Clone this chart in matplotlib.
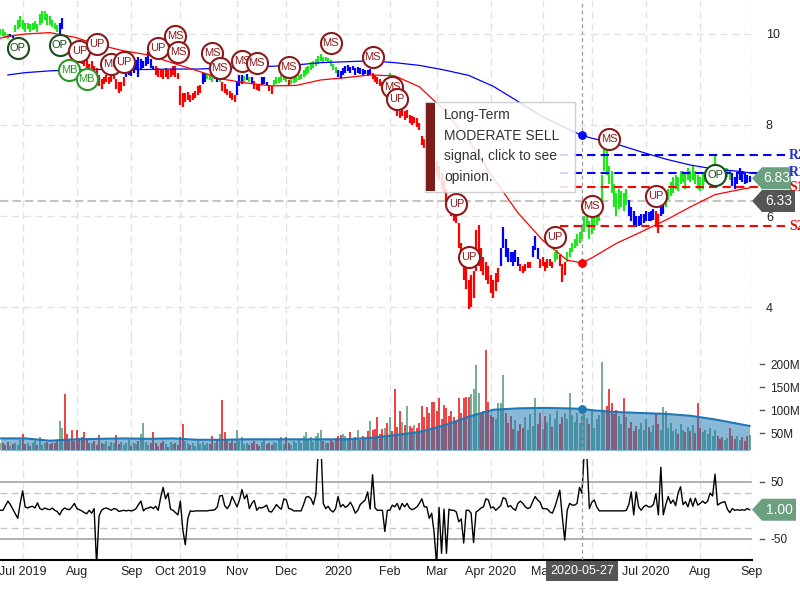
import numpy as np
import matplotlib
matplotlib.use('Agg')
import matplotlib.pyplot as plt
from matplotlib.patches import Polygon, Rectangle

plt.rcParams['font.family'] = ['Liberation Sans', 'DejaVu Sans']
plt.rcParams['axes.unicode_minus'] = False

# one bar per trading day, 2019-06-18 .. 2020-08-31 (x = trading-day index)
lows = [
    9.98, 9.95, 9.92, 9.90, 9.93, 9.92, 10.05, 10.10, 10.15, 10.10,
    10.05, 10.10, 10.05, 10.08, 10.10, 10.05, 10.20, 10.25, 10.30, 10.20,
    10.20, 10.15, 10.10, 10.05, 10.00, 10.10, 9.75, 9.65, 9.60, 9.55,
    9.50, 9.45, 9.40, 9.35, 9.30, 9.20, 9.10, 9.10, 9.05, 9.00,
    8.85, 8.80, 8.90, 8.95, 8.90, 8.95, 9.00, 8.80, 8.70, 8.75,
    8.85, 9.05, 9.10, 9.08, 9.15, 9.20, 9.05, 9.20, 9.25, 9.30,
    9.35, 9.25, 9.20, 9.10, 9.05, 9.05, 9.00, 9.05, 9.00, 9.05,
    9.10, 9.05, 9.00, 8.45, 8.40, 8.50, 8.55, 8.50, 8.55, 8.60,
    8.65, 8.70, 8.90, 8.95, 9.00, 8.98, 8.95, 9.00, 8.95, 8.95,
    8.75, 8.70, 8.65, 8.60, 8.55, 8.50, 8.65, 8.85, 8.90, 8.95,
    8.98, 8.95, 8.90, 8.80, 8.78, 8.75, 8.88, 8.90, 8.85, 8.75,
    8.68, 8.85, 8.90, 8.92, 8.95, 8.98, 8.95, 8.85, 8.90, 8.92,
    8.95, 8.98, 9.00, 9.05, 9.10, 9.15, 9.20, 9.25, 9.30, 9.35,
    9.40, 9.38, 9.40, 9.38, 9.30, 9.20, 9.15, 9.05, 9.02, 9.10,
    9.15, 9.18, 9.15, 9.20, 9.10, 9.15, 9.12, 9.10, 9.12, 9.08,
    9.10, 9.00, 8.95, 8.90, 8.85, 8.80, 8.85, 8.75, 8.95, 8.55,
    8.30, 8.20, 8.15, 8.20, 8.10, 8.15, 8.05, 8.00, 8.05, 7.95,
    7.90, 7.55, 7.50, 7.45, 7.30, 7.10, 7.00, 6.90, 6.80, 6.60,
    6.50, 6.30, 6.15, 6.00, 5.90, 5.85, 5.30, 5.00, 4.60, 4.40,
    3.95, 4.00, 4.20, 4.80, 4.90, 4.80, 4.70, 4.60, 4.50, 4.30,
    4.20, 4.35, 4.55, 4.90, 5.30, 5.10, 5.00, 5.00, 4.90, 5.00,
    4.90, 4.80, 4.75, 4.80, 4.85, 4.85, 5.10, 5.25, 5.05, 4.85,
    4.90, 4.80, 4.85, 4.90, 4.85, 5.00, 5.05, 4.90, 4.55, 4.70,
    5.00, 5.10, 5.20, 5.30, 5.35, 5.40, 5.50, 5.65, 5.75, 5.50,
    5.60, 5.70, 5.80, 5.90, 6.30, 7.00, 6.90, 6.70, 6.50, 6.20,
    6.00, 6.15, 6.20, 6.10, 6.25, 6.00, 5.90, 5.80, 5.75, 5.78,
    5.80, 5.85, 5.90, 5.88, 5.90, 5.92, 5.80, 5.62, 6.00, 6.05,
    6.20, 6.35, 6.45, 6.50, 6.60, 6.55, 6.70, 6.75, 6.60, 6.80,
    6.75, 6.80, 6.70, 6.60, 6.55, 6.60, 6.75, 6.80, 6.85, 6.90,
    6.95, 6.85, 6.80, 6.75, 6.80, 6.85, 6.80, 6.65, 6.60, 6.70,
    6.80, 6.75, 6.70, 6.72, 6.75,
]
highs = [
    10.12, 10.10, 10.05, 10.00, 10.00, 9.98, 10.20, 10.30, 10.40, 10.30,
    10.25, 10.25, 10.22, 10.25, 10.28, 10.22, 10.45, 10.50, 10.50, 10.45,
    10.40, 10.30, 10.25, 10.20, 10.25, 10.35, 9.95, 9.85, 9.80, 9.75,
    9.70, 9.65, 9.60, 9.55, 9.50, 9.45, 9.35, 9.40, 9.30, 9.25,
    9.10, 9.00, 9.05, 9.10, 9.05, 9.10, 9.15, 9.00, 8.95, 8.95,
    9.05, 9.25, 9.30, 9.25, 9.40, 9.42, 9.50, 9.45, 9.40, 9.50,
    9.60, 9.45, 9.30, 9.30, 9.25, 9.20, 9.20, 9.25, 9.20, 9.22,
    9.30, 9.30, 9.15, 8.85, 8.70, 8.70, 8.72, 8.65, 8.70, 8.75,
    8.85, 8.87, 9.15, 9.15, 9.12, 9.10, 9.08, 9.12, 9.08, 9.10,
    8.95, 8.90, 8.80, 8.75, 8.70, 8.65, 8.95, 9.10, 9.10, 9.08,
    9.12, 9.05, 9.05, 8.97, 8.90, 8.90, 9.05, 9.05, 8.95, 8.88,
    8.85, 8.98, 9.05, 9.05, 9.10, 9.12, 9.08, 8.98, 9.02, 9.05,
    9.08, 9.10, 9.12, 9.20, 9.28, 9.30, 9.38, 9.40, 9.45, 9.52,
    9.56, 9.50, 9.50, 9.48, 9.42, 9.35, 9.28, 9.20, 9.18, 9.25,
    9.30, 9.32, 9.28, 9.30, 9.25, 9.28, 9.25, 9.22, 9.20, 9.20,
    9.22, 9.15, 9.10, 9.05, 9.00, 8.95, 9.00, 8.90, 9.15, 8.80,
    8.55, 8.40, 8.30, 8.35, 8.30, 8.32, 8.22, 8.20, 8.18, 8.15,
    8.05, 7.75, 7.70, 7.65, 7.60, 7.50, 7.30, 7.20, 7.10, 6.95,
    6.80, 6.60, 6.45, 6.30, 6.30, 6.10, 5.85, 5.40, 5.20, 5.00,
    4.60, 4.70, 4.80, 5.70, 5.80, 5.30, 5.10, 5.00, 4.90, 4.70,
    4.60, 4.75, 4.85, 5.30, 5.75, 5.50, 5.30, 5.20, 5.20, 5.25,
    5.10, 4.95, 4.90, 4.95, 4.98, 5.00, 5.35, 5.55, 5.30, 5.05,
    5.10, 5.00, 5.05, 5.05, 5.00, 5.20, 5.25, 5.15, 4.95, 5.00,
    5.20, 5.30, 5.40, 5.50, 5.60, 5.65, 5.80, 6.00, 6.10, 5.90,
    5.95, 6.00, 6.10, 6.20, 6.90, 7.50, 7.45, 7.10, 7.00, 6.70,
    6.50, 6.60, 6.55, 6.50, 6.60, 6.35, 6.20, 6.10, 6.00, 6.00,
    6.05, 6.05, 6.10, 6.08, 6.12, 6.15, 6.10, 6.05, 6.30, 6.35,
    6.50, 6.60, 6.75, 6.85, 6.90, 6.85, 7.00, 7.00, 6.95, 7.05,
    7.00, 7.10, 7.00, 6.90, 6.85, 6.95, 7.00, 7.05, 7.10, 7.15,
    7.35, 7.10, 7.05, 7.00, 7.05, 7.05, 7.00, 6.95, 6.85, 6.95,
    7.05, 7.00, 6.95, 6.90, 6.88,
]
# trend colouring of the bars: first index of each run and its colour
trend_start = [0, 4, 6, 24, 26, 51, 63, 82, 84, 87, 89, 90, 96, 99, 100, 101, 102,
               103, 106, 109, 111, 117, 118, 137, 151, 158, 159, 203, 211, 216,
               219, 225, 227, 230, 255, 266, 268, 270, 297]
trend_color = ['g', 'b', 'g', 'b', 'r', 'b', 'r', 'b', 'g', 'b', 'g', 'r', 'b', 'g',
               'b', 'g', 'b', 'r', 'b', 'r', 'g', 'r', 'g', 'b', 'r', 'g', 'r', 'b',
               'r', 'b', 'r', 'g', 'r', 'g', 'b', 'r', 'b', 'g', 'b']

# volume in millions
volume = [
    30, 28, 25, 32, 22, 27, 30, 24, 35, 48, 26, 30, 22, 28, 33, 25, 42, 24, 29, 31,
    26, 30, 28, 35, 76, 61, 135, 48, 38, 57, 33, 58, 40, 42, 53, 37, 30, 28, 34, 25,
    46, 30, 27, 33, 22, 31, 29, 46, 26, 32, 24, 28, 35, 22, 30, 27, 33, 48, 72, 31,
    25, 29, 53, 30, 22, 28, 34, 26, 20, 31, 27, 30, 24, 42, 70, 33, 28, 25, 30, 22,
    35, 27, 31, 24, 29, 26, 45, 30, 36, 48, 122, 53, 38, 30, 35, 28, 57, 33, 42, 26,
    30, 24, 28, 33, 27, 22, 31, 40, 26, 29, 25, 32, 28, 35, 41, 27, 43, 30, 24, 33,
    28, 36, 30, 44, 52, 38, 43, 32, 45, 51, 57, 34, 30, 28, 36, 31, 40, 45, 46, 48,
    44, 36, 52, 38, 42, 57, 35, 45, 40, 55, 76, 57, 60, 85, 48, 60, 61, 72, 86, 55,
    145, 64, 98, 75, 68, 110, 65, 61, 68, 62, 72, 110, 85, 108, 93, 118, 117, 98, 126, 80,
    111, 104, 88, 99, 85, 75, 126, 93, 126, 128, 128, 136, 145, 198, 138, 95, 98, 230, 118, 90,
    86, 80, 116, 116, 176, 95, 72, 88, 60, 78, 55, 70, 62, 85, 58, 92, 66, 126, 70, 95,
    60, 88, 75, 92, 64, 80, 98, 70, 85, 95, 80, 138, 90, 75, 95, 72, 88, 92, 84, 70,
    98, 62, 80, 90, 205, 98, 110, 145, 116, 92, 100, 88, 70, 126, 85, 62, 75, 55, 66, 60,
    72, 58, 80, 64, 52, 68, 92, 70, 58, 106, 98, 62, 72, 55, 60, 48, 70, 58, 52, 64,
    56, 68, 50, 116, 62, 52, 58, 48, 62, 45, 58, 44, 38, 42, 36, 40, 62, 44, 38, 45,
    36, 42, 34, 44, 46,
]
# oscillator in the lower panel
osc = [
    0, 0, 8, 16, 10, 2, -6, -14, 12, 34, 6, 4, 6, 7, 4, 13, 3, 1, 4, 2,
    1, 4, 0, -2, -8, 0, 4, 2, 1, 6, 12, 3, 1, -1, -4, -6, 0, -5, 3, -95,
    -10, 0, 3, 4, 2, 0, 3, 2, -2, -1, 0, -1, 0, -1, 0, 3, 10, 16, -1, 3,
    4, 6, 3, 7, 0, 22, 40, 20, 30, 2, 0, -4, -8, 16, -34, -60, -15, -1, -2, -1,
    -1, -1, -1, -1, -1, 0, 0, 1, 6, 25, 26, 8, 3, 9, 24, 15, 6, 18, 36, 20,
    27, 3, 12, 17, 0, 5, 4, 6, 9, -2, -3, 3, 10, 5, 2, 20, 18, 3, 2, -1,
    -1, -1, -1, 10, 23, 24, 20, 10, 28, 110, 120, 12, 3, 7, 0, -3, 3, 24, 6, 10,
    5, 8, 14, 6, -5, 0, 10, 14, 18, 32, 2, 62, 4, 0, 0, 0, -37, 0, 0, 9,
    6, 12, 1, 12, 6, 12, 4, 1, 3, 6, 12, 20, 6, 6, -14, -5, -40, -95, 5, -75,
    2, -75, 2, 0, 0, -3, -20, -15, -57, 0, 0, -5, -56, -3, 0, 4, 6, 20, 18, 4,
    6, 0, 4, 8, 22, 20, 6, 8, 3, 0, 12, 16, 12, 6, 3, 5, 15, 24, 18, 14,
    3, 3, 2, -3, -5, 6, 20, 35, -11, -52, 0, 12, 9, 9, 12, 40, 30, 110, 95, 3,
    14, 18, 6, -1, -1, -1, -1, -1, -1, -1, -1, -1, -1, -1, 0, 10, 32, -8, 32, 6,
    0, 6, 9, 6, 6, 10, 29, -8, 75, -8, 10, 24, 12, 18, 8, 30, 41, 10, 15, 6,
    21, 7, 21, 9, 12, 16, 12, 16, 30, 25, 63, 9, 12, 14, 15, 2, -4, 3, 0, 1,
    0, 1, 0, 3, 1,
]

# moving averages, read at these trading-day indices
ma_idx = [0, 3, 10, 20, 30, 40, 50, 60, 70, 80, 90, 100, 110, 120, 130, 140, 150,
          160, 170, 180, 190, 200, 210, 220, 230, 236, 240, 250, 260, 270, 280,
          290, 300, 304]
ma_fast = [9.91, 9.95, 10.0, 10.03, 9.93, 9.76, 9.63, 9.54, 9.36, 9.19, 9.01, 8.92,
           8.86, 8.87, 8.99, 9.04, 9.10, 9.08, 8.84, 8.33, 7.67, 6.84, 6.07, 5.47,
           5.03, 4.97, 5.08, 5.40, 5.65, 5.91, 6.20, 6.47, 6.58, 6.62]
ma_slow = [np.nan, 9.10, 9.15, 9.19, 9.21, 9.22, 9.22, 9.22, 9.23, 9.23, 9.25, 9.27,
           9.29, 9.32, 9.37, 9.39, 9.41, 9.37, 9.31, 9.21, 9.09, 8.85, 8.52, 8.18,
           7.92, 7.77, 7.71, 7.58, 7.41, 7.25, 7.12, 7.03, 6.98, 6.95]
vol_ma = [39, 39, 39, 34, 37, 38, 39, 38, 39, 36, 36, 37, 37, 37, 37, 37, 40, 46,
          53, 67, 86, 101, 104, 105, 104, 103, 100, 96, 94, 92, 88, 80, 70, 66]

month_idx = [9, 31, 53, 73, 96, 116, 137, 158, 177, 199, 220, 240, 262, 284, 305]
month_labels = ['Jul 2019', 'Aug', 'Sep', 'Oct 2019', 'Nov', 'Dec', '2020', 'Feb',
                'Mar', 'Apr 2020', 'May', 'Jun', 'Jul 2020', 'Aug', 'Sep']

signal_idx = [7, 24, 32, 39, 28, 35, 45, 50, 64, 71, 72, 86, 89, 98, 104, 117, 134,
              151, 159, 161, 185, 190, 225, 240, 247, 266, 290]
signal_price = [9.69, 9.76, 9.63, 9.78, 9.21, 9.01, 9.34, 9.38, 9.69, 9.96, 9.60,
                9.58, 9.25, 9.41, 9.36, 9.27, 9.80, 9.49, 8.84, 8.57, 6.26, 5.10,
                5.54, 6.22, 7.69, 6.44, 6.90]
signal_text = ['OP', 'OP', 'UP', 'UP', 'MB', 'MB', 'MS', 'UP', 'UP', 'MS', 'MS', 'MS',
               'MS', 'MS', 'MS', 'MS', 'MS', 'MS', 'MS', 'UP', 'UP', 'UP', 'UP', 'MS',
               'MS', 'UP', 'OP']

level_names = ['R2', 'R1', 'S1', 'S2']
level_values = [7.34, 6.95, 6.63, 5.77]
level_from = 227

last_price = 6.83
cross_price = 6.33
cross_idx = 236
cross_date = '2020-05-27'
tooltip = 'Long-Term\nMODERATE SELL\nsignal, click to see\nopinion.'

# ---------------------------------------------------------------------------
n = len(lows)
x = np.arange(n)
W, H = 800, 600

pal = {'g': '#1fe61f', 'b': '#0000ff', 'r': '#ff0000'}
bar_col = []
run = 0
for i in range(n):
    while run + 1 < len(trend_start) and i >= trend_start[run + 1]:
        run += 1
    bar_col.append(pal[trend_color[run]])

mid = (np.array(lows) + np.array(highs)) / 2
vol_col = ['#ee2020' if i > 0 and mid[i] < mid[i - 1] else '#5c9e80' for i in range(n)]

fig = plt.figure(figsize=(8, 6), dpi=100)


def box(x0, y0, x1, y1):
    return [x0 / W, 1 - y1 / H, (x1 - x0) / W, (y1 - y0) / H]


ax = fig.add_axes(box(0, 0, 752, 337))
axv = fig.add_axes(box(0, 337, 752, 450))
axo = fig.add_axes(box(0, 459, 752, 560))

grid_kw = dict(color='#e2e2e2', lw=1, ls=(0, (5, 3.5)), zorder=0)
for a in (ax, axv, axo):
    a.set_xlim(-0.2, 305.0)
    for s in a.spines.values():
        s.set_visible(False)
    for m in month_idx:
        a.axvline(m, **grid_kw)
    a.axvline(cross_idx, color='#9a9a9a', lw=0.9, ls=(0, (3, 2.5)), zorder=6)
    a.yaxis.tick_right()
    a.tick_params(axis='x', bottom=False, labelbottom=False)

# price panel
ax.set_ylim(3.341, 10.747)
for v in (4, 6, 8, 10):
    ax.axhline(v, **grid_kw)
ax.axhline(cross_price, color='#c4c4c4', lw=1.5, ls=(0, (4, 2)), zorder=1)
ax.vlines(x, lows, highs, colors=bar_col, lw=1.6, zorder=3)
ax.plot(ma_idx, ma_slow, color='#0000ff', lw=0.9, zorder=4)
ax.plot(ma_idx, ma_fast, color='#ff0000', lw=0.9, zorder=4)
k = ma_idx.index(cross_idx)
ax.scatter([cross_idx], [ma_slow[k]], s=28, color='#0000ff', zorder=7)
ax.scatter([cross_idx], [ma_fast[k]], s=28, color='#ff0000', zorder=7)
for name, val in zip(level_names, level_values):
    col = '#0000ee' if name.startswith('R') else '#ff0000'
    ax.plot([level_from, 318.4], [val, val], color=col, lw=1.5, ls=(0, (4, 2.5)),
            clip_on=False, zorder=5)
ax.set_yticks([4, 6, 8, 10])
ax.tick_params(axis='y', length=0, pad=10, labelsize=9, labelcolor='#222222')

for i, (si, sp, st) in enumerate(zip(signal_idx, signal_price, signal_text)):
    if st == 'OP':
        c = '#1b4d1b'
    elif st == 'MB':
        c = '#2a962a'
    else:
        c = '#8b1a1a'
    ax.scatter([si], [sp], s=230, facecolor='white', edgecolor=c, linewidth=1.5,
               zorder=10 + 2 * i)
    ax.text(si, sp, st, color=c, fontsize=8, ha='center', va='center',
            zorder=11 + 2 * i)

# volume panel
axv.set_ylim(13.9, 258.5)
axv.vlines(x, 0, volume, colors=vol_col, lw=1.2, zorder=2)
axv.fill_between(ma_idx, 0, vol_ma, color='#1f77b4', alpha=0.52, lw=0, zorder=3)
axv.plot(ma_idx, vol_ma, color='#1f77b4', lw=1.5, zorder=4)
axv.scatter([cross_idx], [vol_ma[k]], s=28, color='#1f77b4', zorder=7)
vt = [50, 100, 150, 200]
axv.set_yticks(vt)
axv.set_yticklabels([f'{t}M' for t in vt])

# oscillator panel
axo.set_ylim(-86.6, 89.4)
for v in (50, -50):
    axo.axhline(v, color='#aaaaaa', lw=1.3, zorder=1)
for v in (30, -30):
    axo.axhline(v, color='#c6c6c6', lw=1, ls=(0, (5, 3)), zorder=1)
axo.plot(x, osc, color='black', lw=1, zorder=3)
axo.set_yticks([50, -50])
axo.spines['bottom'].set_visible(True)
axo.spines['bottom'].set_color('black')
axo.spines['bottom'].set_linewidth(1.5)
axo.set_xticks(month_idx)
axo.set_xticklabels(month_labels)
axo.tick_params(axis='x', bottom=False, labelbottom=True, length=0, pad=4,
                labelsize=9, labelcolor='#222222')

for a, ticks in ((axv, vt), (axo, [50, -50])):
    a.tick_params(axis='y', length=0, pad=13, labelsize=8.5, labelcolor='#222222')
    for t in ticks:
        a.plot([760 / 752, 764 / 752], [t, t], transform=a.get_yaxis_transform(),
               color='#555555', lw=1, clip_on=False)

# ---------------------------------------------------------------------------
inv = fig.transFigure.inverted()


def tag(a, value, text, color, right):
    x0 = a.transAxes.transform((1, 0))[0]
    y0 = a.transData.transform((0, value))[1]
    h = 11
    pts = [(x0, y0), (x0 + 10, y0 + h), (right, y0 + h), (right, y0 - h), (x0 + 10, y0 - h)]
    fig.add_artist(Polygon(inv.transform(pts), closed=True, transform=fig.transFigure,
                           fc=color, ec='none', zorder=5))
    xm, ym = inv.transform(((x0 + 10 + right) / 2, y0))
    fig.text(xm, ym, text, color='white', fontsize=10, ha='center', va='center', zorder=6)


tag(ax, last_price, f'{last_price:.2f}', '#6a9f80', 791)
tag(ax, cross_price, f'{cross_price:.2f}', '#555555', 795)
tag(axo, osc[-1], f'{osc[-1]:.2f}', '#6a9f80', 796)

for name, val in zip(level_names, level_values):
    col = '#2233cc' if name.startswith('R') else '#e01010'
    y0 = ax.transData.transform((0, val))[1]
    fig.text(789 / W, y0 / H, name, color=col, fontsize=10, fontweight='bold',
             family='Liberation Serif', va='center', ha='left', zorder=7)

# hover tooltip
fig.add_artist(Rectangle((425 / W, 1 - 192 / H), 150 / W, 90 / H, transform=fig.transFigure,
                         fc='white', alpha=0.85, ec='#c8c8c8', lw=1, zorder=8))
fig.add_artist(Rectangle((426 / W, 1 - 191 / H), 9 / W, 88 / H, transform=fig.transFigure,
                         fc='#7d1a1a', ec='none', zorder=9))
fig.text(444 / W, 1 - 108 / H, tooltip, fontsize=10, color='#333333', va='top',
         ha='left', linespacing=1.6, zorder=9)

# crosshair date label
cx = ax.transData.transform((cross_idx, 0))[0]
fig.text(cx / W, 1 - 571 / H, cross_date, color='white', fontsize=9, ha='center',
         va='center', zorder=9,
         bbox=dict(boxstyle='square,pad=0.3', fc='#555555', ec='none'))

fig.savefig('out.png', dpi=100)
